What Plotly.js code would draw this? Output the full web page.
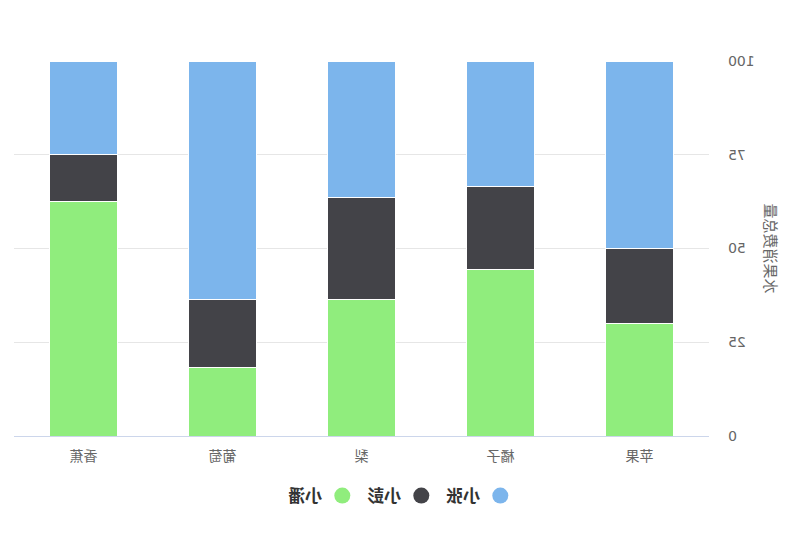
<!DOCTYPE html>
<html>
<head>
<meta charset="utf-8">
<script src="https://cdn.plot.ly/plotly-3.0.1.min.js"></script>
<style>
html,body{margin:0;padding:0;background:#fff;}
#chart{width:800px;height:533px;transform:scaleX(-1);}
</style>
</head>
<body>
<div id="chart"></div>
<script>
const categories = ['苹果', '橘子', '梨', '葡萄', '香蕉'];
const seriesNames = ['小张', '小彭', '小潘'];
const xiaoZhang = [5, 3, 4, 7, 2];
const xiaoPeng = [2, 2, 3, 2, 1];
const xiaoPan = [3, 4, 4, 2, 5];
const colors = ['#7cb5ec', '#434348', '#90ed7d'];
const yTicks = [0, 25, 50, 75, 100];
const yTitle = '水果消费总量';

const font = 'DejaVu Sans, Noto Sans CJK SC, sans-serif';
const values = [xiaoZhang, xiaoPeng, xiaoPan];

const bars = [];
for (let i = 2; i >= 0; i--) {
  bars.push({
    type: 'bar', x: categories, y: values[i], name: seriesNames[i],
    marker: {color: colors[i], line: {color: '#ffffff', width: 1}},
    showlegend: false, hoverinfo: 'skip'
  });
}
const legendTraces = seriesNames.map((n, i) => ({
  type: 'scatter', mode: 'markers', x: [null], y: [null], name: n,
  marker: {color: colors[i], size: 16, symbol: 'circle'}, showlegend: true
}));

const layout = {
  width: 800, height: 533,
  margin: {l: 91, r: 14, t: 61, b: 97},
  paper_bgcolor: '#ffffff', plot_bgcolor: '#ffffff',
  barmode: 'stack', barnorm: 'percent', bargap: 0.51,
  font: {family: font, color: '#666666'},
  xaxis: {
    type: 'category', categoryorder: 'array', categoryarray: categories,
    showgrid: false, showline: true, linecolor: '#ccd6eb', linewidth: 1,
    ticks: '', tickfont: {size: 14, color: '#666666'}, ticklabelstandoff: 7,
    zeroline: false, fixedrange: true, automargin: false
  },
  yaxis: {
    range: [0, 100], tickvals: yTicks, ticktext: yTicks.map(String),
    showgrid: true, gridcolor: '#e6e6e6', gridwidth: 1,
    showline: false, zeroline: false, ticks: '',
    tickfont: {size: 14, color: '#666666'}, ticklabelstandoff: 18,
    title: {text: yTitle, font: {size: 15, color: '#666666'}, standoff: 6},
    automargin: false, fixedrange: true
  },
  legend: {
    orientation: 'h', x: 0.442, xanchor: 'center', y: -0.16, yanchor: 'middle',
    font: {size: 17, color: '#333333', family: font, weight: 'bold'},
    traceorder: 'normal', itemsizing: 'trace', automargin: false
  },
  showlegend: true
};

Plotly.newPlot('chart', bars.concat(legendTraces), layout, {displayModeBar: false, staticPlot: true});
</script>
</body>
</html>
